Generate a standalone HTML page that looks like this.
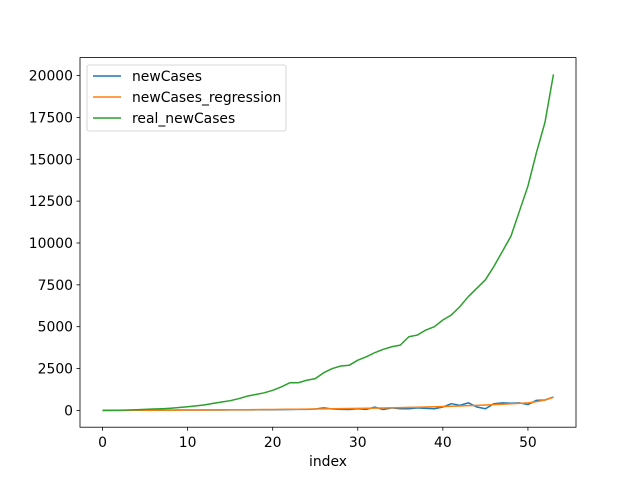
<!DOCTYPE html>
<html><head><meta charset="utf-8"><style>
body{margin:0;background:#fff;}
svg{display:block;font-family:"DejaVu Sans","Liberation Sans",sans-serif;}
</style></head><body>
<svg id="chart" width="640" height="480" viewBox="0 0 640 480"></svg>
<script>
const xValues = Array.from({length:54},(_,i)=>i);
const realNewCases = [0,5,10,20,40,60,80,100,130,170,220,270,330,420,500,580,700,850,950,1050,1200,1400,1650,1650,1800,1900,2250,2500,2650,2700,3000,3200,3450,3650,3800,3900,4400,4500,4800,5000,5400,5700,6200,6800,7300,7800,8600,9500,10400,11900,13400,15400,17200,20070];
const newCases = [0,0,5,5,10,10,10,15,15,20,20,20,20,25,25,30,30,30,35,40,40,45,50,60,60,80,150,80,60,50,100,60,200,50,150,100,100,150,120,100,200,400,300,450,200,100,400,450,430,450,350,600,620,800];
const regression = [0,2,4,6,8,10,12,14,16,18,20,23,26,29,32,35,38,42,46,50,55,60,65,70,76,82,88,95,102,110,118,127,136,146,156,167,178,190,203,217,232,248,265,283,302,323,345,368,393,420,450,520,620,780];
const xTicks = [0,10,20,30,40,50];
const yTicks = [0,2500,5000,7500,10000,12500,15000,17500,20000];
const seriesNames = ["newCases","newCases_regression","real_newCases"];
const colors = ["#1f77b4","#ff7f0e","#2ca02c"];

const L=80,R=576,T=57.6,B=427.2;
const xmin=-2.65,xmax=55.65,ymin=-1004,ymax=21074;
const sx=v=>L+(v-xmin)/(xmax-xmin)*(R-L);
const sy=v=>B-(v-ymin)/(ymax-ymin)*(B-T);
const svg=document.getElementById('chart');
const NS='http://www.w3.org/2000/svg';
const FS=13.9;
function mk(tag,attrs,parent){const e=document.createElementNS(NS,tag);for(const k in attrs)e.setAttribute(k,attrs[k]);(parent||svg).appendChild(e);return e;}

[newCases,regression,realNewCases].forEach((s,si)=>{
  const p=mk('polyline',{points:s.map((v,i)=>sx(xValues[i])+','+sy(v)).join(' '),fill:'none',stroke:colors[si],'stroke-width':1.5,'stroke-linejoin':'round'});
  
  
});

const frame=mk('rect',{x:L,y:T,width:R-L,height:B-T,fill:'none',stroke:'#000','stroke-width':0.8});



xTicks.forEach(t=>{
  const x=sx(t);
  mk('line',{x1:x,x2:x,y1:B,y2:B+3.5,stroke:'#000','stroke-width':0.8});
  const tx=mk('text',{x:x,y:B+20,'text-anchor':'middle','font-size':FS,fill:'#000'});
  tx.textContent=t;
  
  
});
yTicks.forEach(t=>{
  const y=sy(t);
  mk('line',{x1:L-3.5,x2:L,y1:y,y2:y,stroke:'#000','stroke-width':0.8});
  const tx=mk('text',{x:L-7,y:y+5,'text-anchor':'end','font-size':FS,fill:'#000'});
  tx.textContent=t;
  
  
});
const xl=mk('text',{x:(L+R)/2,y:466,'text-anchor':'middle','font-size':FS,fill:'#000'});
xl.textContent='index';



const lg=mk('g',{});


mk('rect',{x:87,y:65,width:199,height:66,rx:2,fill:'#fff','fill-opacity':0.8,stroke:'#ccc','stroke-width':0.8},lg);
seriesNames.forEach((n,i)=>{
  const y=76+i*21;
  mk('line',{x1:93,x2:121,y1:y,y2:y,stroke:colors[i],'stroke-width':1.5},lg);
  const t=mk('text',{x:132,y:y+5,'font-size':FS,fill:'#000'},lg);
  t.textContent=n;
  
  
});
</script>
</body></html>
